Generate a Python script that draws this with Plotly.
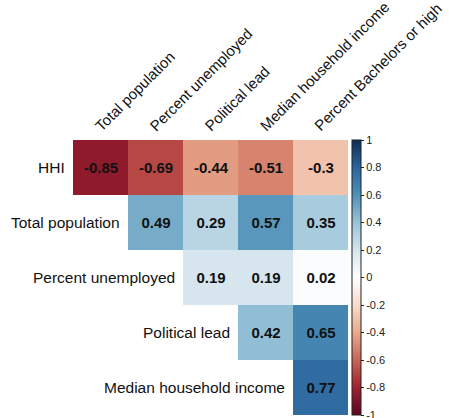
import plotly.graph_objects as go

row_labels = ["HHI", "Total population", "Percent unemployed", "Political lead", "Median household income"]
col_labels = ["Total population", "Percent unemployed", "Political lead", "Median household income", "Percent Bachelors or high"]

# upper-triangle correlations; None marks the empty lower triangle
corr = [
    [-0.85, -0.69, -0.44, -0.51, -0.30],
    [None, 0.49, 0.29, 0.57, 0.35],
    [None, None, 0.19, 0.19, 0.02],
    [None, None, None, 0.42, 0.65],
    [None, None, None, None, 0.77],
]

cbar_ticks = [1, 0.8, 0.6, 0.4, 0.2, 0, -0.2, -0.4, -0.6, -0.8, -1]

rdbu = ["#67001F", "#B2182B", "#D6604D", "#F4A582", "#FDDBC7", "#FFFFFF",
        "#D1E5F0", "#92C5DE", "#4393C3", "#2166AC", "#053061"]


def soften(hex_color, amount=0.18):
    """Pull a colour a little toward its own grey level."""
    r, g, b = (int(hex_color[i:i + 2], 16) for i in (1, 3, 5))
    lum = 0.3 * r + 0.59 * g + 0.11 * b
    r, g, b = (round(c * (1 - amount) + lum * amount) for c in (r, g, b))
    return f"rgb({r},{g},{b})"


colorscale = [[i / (len(rdbu) - 1), soften(c)] for i, c in enumerate(rdbu)]

text = [["" if v is None else f"{v:g}" for v in row] for row in corr]

W, H = 449, 418
ML, MR, MT, MB = 73, 101, 140, 3
plot_w = W - ML - MR
plot_h = H - MT - MB
FONT = "Liberation Sans, Arial"

fig = go.Figure(go.Heatmap(
    z=corr,
    x=list(range(len(col_labels))),
    y=list(range(len(row_labels))),
    text=text,
    texttemplate="%{text}",
    textfont=dict(family=FONT, size=15, color="#111", weight="bold"),
    colorscale=colorscale,
    zmin=-1, zmax=1,
    hoverongaps=False,
    colorbar=dict(
        x=(351.5 - ML) / plot_w, xanchor="left", xpad=0,
        y=0.5, yanchor="middle", ypad=0,
        len=plot_h, lenmode="pixels",
        thickness=9, thicknessmode="pixels",
        outlinewidth=1, outlinecolor="#222",
        tickvals=cbar_ticks,
        ticktext=[f"{t:g}" for t in cbar_ticks],
        ticks="outside", ticklen=3, tickcolor="#222",
        ticklabeloverflow="allow",
        tickfont=dict(family=FONT, size=11, color="#222"),
    ),
))

# row labels sit just left of the first filled cell of each row
annotations = []
for i, lab in enumerate(row_labels):
    annotations.append(dict(
        x=i - 0.5, y=i, xref="x", yref="y", text=lab, showarrow=False,
        xanchor="right", yanchor="middle", xshift=-6,
        font=dict(family=FONT, size=15.5, color="#111"),
    ))
# column labels rotated above the grid
for j, lab in enumerate(col_labels):
    annotations.append(dict(
        x=j - 0.22, y=-0.5, xref="x", yref="y", text=lab, showarrow=False,
        textangle=-45, xanchor="left", yanchor="bottom", yshift=3,
        font=dict(family=FONT, size=15, color="#111"),
    ))

fig.update_layout(
    width=W, height=H,
    margin=dict(l=ML, r=MR, t=MT, b=MB),
    plot_bgcolor="white", paper_bgcolor="white",
    xaxis=dict(range=[-0.5, 4.5], showticklabels=False, showgrid=False, zeroline=False, ticks=""),
    yaxis=dict(range=[4.5, -0.5], showticklabels=False, showgrid=False, zeroline=False, ticks=""),
    annotations=annotations,
)

fig.write_html("out.html")
